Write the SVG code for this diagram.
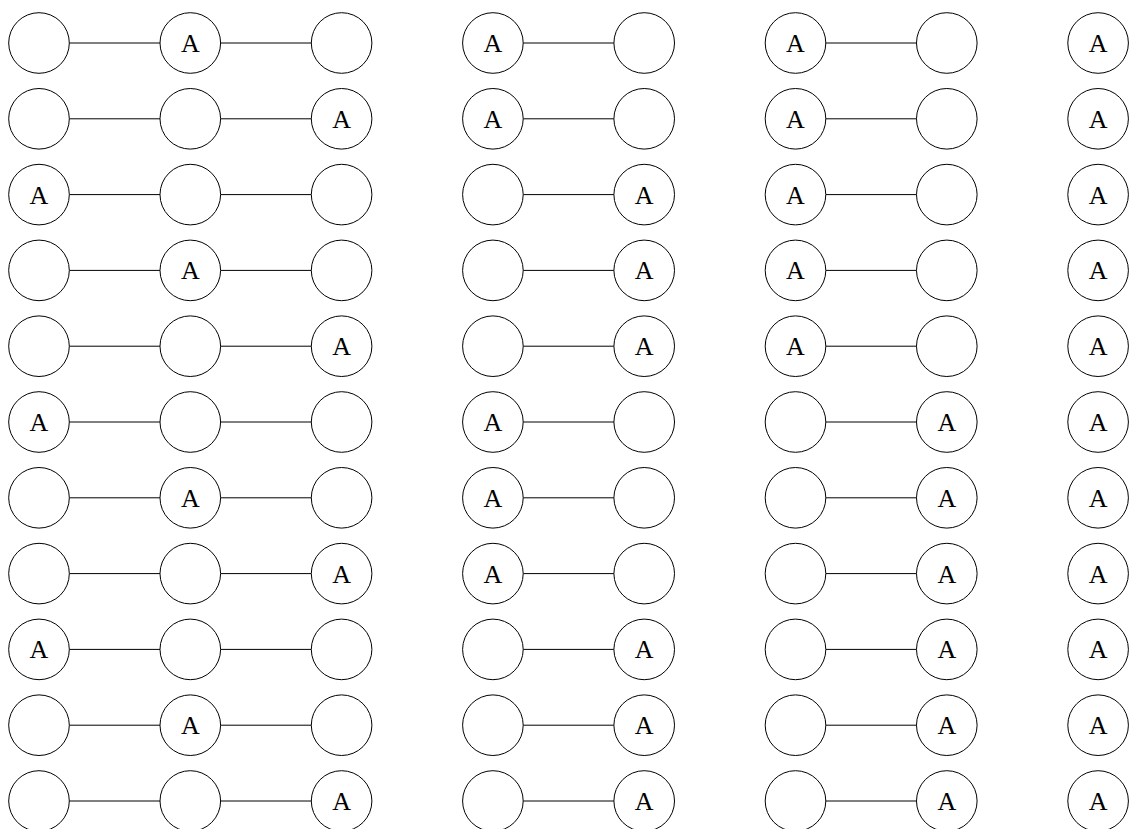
<svg xmlns="http://www.w3.org/2000/svg" width="1129" height="829" viewBox="0 0 1129 829">
<defs>
<style>
.n circle{fill:#fff;stroke:#000;stroke-width:1}
.n text{font-family:"Liberation Serif","Times New Roman",serif;font-size:26px;text-anchor:middle;fill:#000}
#edges line{stroke:#000;stroke-width:1}
</style>
<circle id="c" r="30.3"/>
</defs>
<rect width="1129" height="829" fill="#fff"/>
<g id="edges">
<line x1="69.3" y1="43" x2="160" y2="43"/><line x1="220.6" y1="43" x2="311.3" y2="43"/><line x1="523.2" y1="43" x2="613.9" y2="43"/><line x1="825.8" y1="43" x2="916.5" y2="43"/>
<line x1="69.3" y1="118.8" x2="160" y2="118.8"/><line x1="220.6" y1="118.8" x2="311.3" y2="118.8"/><line x1="523.2" y1="118.8" x2="613.9" y2="118.8"/><line x1="825.8" y1="118.8" x2="916.5" y2="118.8"/>
<line x1="69.3" y1="194.6" x2="160" y2="194.6"/><line x1="220.6" y1="194.6" x2="311.3" y2="194.6"/><line x1="523.2" y1="194.6" x2="613.9" y2="194.6"/><line x1="825.8" y1="194.6" x2="916.5" y2="194.6"/>
<line x1="69.3" y1="270.4" x2="160" y2="270.4"/><line x1="220.6" y1="270.4" x2="311.3" y2="270.4"/><line x1="523.2" y1="270.4" x2="613.9" y2="270.4"/><line x1="825.8" y1="270.4" x2="916.5" y2="270.4"/>
<line x1="69.3" y1="346.2" x2="160" y2="346.2"/><line x1="220.6" y1="346.2" x2="311.3" y2="346.2"/><line x1="523.2" y1="346.2" x2="613.9" y2="346.2"/><line x1="825.8" y1="346.2" x2="916.5" y2="346.2"/>
<line x1="69.3" y1="422" x2="160" y2="422"/><line x1="220.6" y1="422" x2="311.3" y2="422"/><line x1="523.2" y1="422" x2="613.9" y2="422"/><line x1="825.8" y1="422" x2="916.5" y2="422"/>
<line x1="69.3" y1="497.8" x2="160" y2="497.8"/><line x1="220.6" y1="497.8" x2="311.3" y2="497.8"/><line x1="523.2" y1="497.8" x2="613.9" y2="497.8"/><line x1="825.8" y1="497.8" x2="916.5" y2="497.8"/>
<line x1="69.3" y1="573.6" x2="160" y2="573.6"/><line x1="220.6" y1="573.6" x2="311.3" y2="573.6"/><line x1="523.2" y1="573.6" x2="613.9" y2="573.6"/><line x1="825.8" y1="573.6" x2="916.5" y2="573.6"/>
<line x1="69.3" y1="649.4" x2="160" y2="649.4"/><line x1="220.6" y1="649.4" x2="311.3" y2="649.4"/><line x1="523.2" y1="649.4" x2="613.9" y2="649.4"/><line x1="825.8" y1="649.4" x2="916.5" y2="649.4"/>
<line x1="69.3" y1="725.2" x2="160" y2="725.2"/><line x1="220.6" y1="725.2" x2="311.3" y2="725.2"/><line x1="523.2" y1="725.2" x2="613.9" y2="725.2"/><line x1="825.8" y1="725.2" x2="916.5" y2="725.2"/>
<line x1="69.3" y1="801" x2="160" y2="801"/><line x1="220.6" y1="801" x2="311.3" y2="801"/><line x1="523.2" y1="801" x2="613.9" y2="801"/><line x1="825.8" y1="801" x2="916.5" y2="801"/>
</g>
<!-- row 1 y=43 -->
<g id="r1a" class="n"><circle cx="39" cy="43" r="30.3"/></g>
<g id="r1b" class="n"><circle cx="190.3" cy="43" r="30.3"/><text x="190.3" y="52">A</text></g>
<g id="r1c" class="n"><circle cx="341.6" cy="43" r="30.3"/></g>
<g id="r1d" class="n"><circle cx="492.9" cy="43" r="30.3"/><text x="492.9" y="52">A</text></g>
<g id="r1e" class="n"><circle cx="644.2" cy="43" r="30.3"/></g>
<g id="r1f" class="n"><circle cx="795.5" cy="43" r="30.3"/><text x="795.5" y="52">A</text></g>
<g id="r1g" class="n"><circle cx="946.8" cy="43" r="30.3"/></g>
<g id="r1h" class="n"><circle cx="1098.1" cy="43" r="30.3"/><text x="1098.1" y="52">A</text></g>
<!-- row 2 y=118.8 -->
<g id="r2a" class="n"><circle cx="39" cy="118.8" r="30.3"/></g>
<g id="r2b" class="n"><circle cx="190.3" cy="118.8" r="30.3"/></g>
<g id="r2c" class="n"><circle cx="341.6" cy="118.8" r="30.3"/><text x="341.6" y="127.8">A</text></g>
<g id="r2d" class="n"><circle cx="492.9" cy="118.8" r="30.3"/><text x="492.9" y="127.8">A</text></g>
<g id="r2e" class="n"><circle cx="644.2" cy="118.8" r="30.3"/></g>
<g id="r2f" class="n"><circle cx="795.5" cy="118.8" r="30.3"/><text x="795.5" y="127.8">A</text></g>
<g id="r2g" class="n"><circle cx="946.8" cy="118.8" r="30.3"/></g>
<g id="r2h" class="n"><circle cx="1098.1" cy="118.8" r="30.3"/><text x="1098.1" y="127.8">A</text></g>
<!-- row 3 y=194.6 -->
<g id="r3a" class="n"><circle cx="39" cy="194.6" r="30.3"/><text x="39" y="203.6">A</text></g>
<g id="r3b" class="n"><circle cx="190.3" cy="194.6" r="30.3"/></g>
<g id="r3c" class="n"><circle cx="341.6" cy="194.6" r="30.3"/></g>
<g id="r3d" class="n"><circle cx="492.9" cy="194.6" r="30.3"/></g>
<g id="r3e" class="n"><circle cx="644.2" cy="194.6" r="30.3"/><text x="644.2" y="203.6">A</text></g>
<g id="r3f" class="n"><circle cx="795.5" cy="194.6" r="30.3"/><text x="795.5" y="203.6">A</text></g>
<g id="r3g" class="n"><circle cx="946.8" cy="194.6" r="30.3"/></g>
<g id="r3h" class="n"><circle cx="1098.1" cy="194.6" r="30.3"/><text x="1098.1" y="203.6">A</text></g>
<!-- row 4 y=270.4 -->
<g id="r4a" class="n"><circle cx="39" cy="270.4" r="30.3"/></g>
<g id="r4b" class="n"><circle cx="190.3" cy="270.4" r="30.3"/><text x="190.3" y="279.4">A</text></g>
<g id="r4c" class="n"><circle cx="341.6" cy="270.4" r="30.3"/></g>
<g id="r4d" class="n"><circle cx="492.9" cy="270.4" r="30.3"/></g>
<g id="r4e" class="n"><circle cx="644.2" cy="270.4" r="30.3"/><text x="644.2" y="279.4">A</text></g>
<g id="r4f" class="n"><circle cx="795.5" cy="270.4" r="30.3"/><text x="795.5" y="279.4">A</text></g>
<g id="r4g" class="n"><circle cx="946.8" cy="270.4" r="30.3"/></g>
<g id="r4h" class="n"><circle cx="1098.1" cy="270.4" r="30.3"/><text x="1098.1" y="279.4">A</text></g>
<!-- row 5 y=346.2 -->
<g id="r5a" class="n"><circle cx="39" cy="346.2" r="30.3"/></g>
<g id="r5b" class="n"><circle cx="190.3" cy="346.2" r="30.3"/></g>
<g id="r5c" class="n"><circle cx="341.6" cy="346.2" r="30.3"/><text x="341.6" y="355.2">A</text></g>
<g id="r5d" class="n"><circle cx="492.9" cy="346.2" r="30.3"/></g>
<g id="r5e" class="n"><circle cx="644.2" cy="346.2" r="30.3"/><text x="644.2" y="355.2">A</text></g>
<g id="r5f" class="n"><circle cx="795.5" cy="346.2" r="30.3"/><text x="795.5" y="355.2">A</text></g>
<g id="r5g" class="n"><circle cx="946.8" cy="346.2" r="30.3"/></g>
<g id="r5h" class="n"><circle cx="1098.1" cy="346.2" r="30.3"/><text x="1098.1" y="355.2">A</text></g>
<!-- row 6 y=422 -->
<g id="r6a" class="n"><circle cx="39" cy="422" r="30.3"/><text x="39" y="431">A</text></g>
<g id="r6b" class="n"><circle cx="190.3" cy="422" r="30.3"/></g>
<g id="r6c" class="n"><circle cx="341.6" cy="422" r="30.3"/></g>
<g id="r6d" class="n"><circle cx="492.9" cy="422" r="30.3"/><text x="492.9" y="431">A</text></g>
<g id="r6e" class="n"><circle cx="644.2" cy="422" r="30.3"/></g>
<g id="r6f" class="n"><circle cx="795.5" cy="422" r="30.3"/></g>
<g id="r6g" class="n"><circle cx="946.8" cy="422" r="30.3"/><text x="946.8" y="431">A</text></g>
<g id="r6h" class="n"><circle cx="1098.1" cy="422" r="30.3"/><text x="1098.1" y="431">A</text></g>
<!-- row 7 y=497.8 -->
<g id="r7a" class="n"><circle cx="39" cy="497.8" r="30.3"/></g>
<g id="r7b" class="n"><circle cx="190.3" cy="497.8" r="30.3"/><text x="190.3" y="506.8">A</text></g>
<g id="r7c" class="n"><circle cx="341.6" cy="497.8" r="30.3"/></g>
<g id="r7d" class="n"><circle cx="492.9" cy="497.8" r="30.3"/><text x="492.9" y="506.8">A</text></g>
<g id="r7e" class="n"><circle cx="644.2" cy="497.8" r="30.3"/></g>
<g id="r7f" class="n"><circle cx="795.5" cy="497.8" r="30.3"/></g>
<g id="r7g" class="n"><circle cx="946.8" cy="497.8" r="30.3"/><text x="946.8" y="506.8">A</text></g>
<g id="r7h" class="n"><circle cx="1098.1" cy="497.8" r="30.3"/><text x="1098.1" y="506.8">A</text></g>
<!-- row 8 y=573.6 -->
<g id="r8a" class="n"><circle cx="39" cy="573.6" r="30.3"/></g>
<g id="r8b" class="n"><circle cx="190.3" cy="573.6" r="30.3"/></g>
<g id="r8c" class="n"><circle cx="341.6" cy="573.6" r="30.3"/><text x="341.6" y="582.6">A</text></g>
<g id="r8d" class="n"><circle cx="492.9" cy="573.6" r="30.3"/><text x="492.9" y="582.6">A</text></g>
<g id="r8e" class="n"><circle cx="644.2" cy="573.6" r="30.3"/></g>
<g id="r8f" class="n"><circle cx="795.5" cy="573.6" r="30.3"/></g>
<g id="r8g" class="n"><circle cx="946.8" cy="573.6" r="30.3"/><text x="946.8" y="582.6">A</text></g>
<g id="r8h" class="n"><circle cx="1098.1" cy="573.6" r="30.3"/><text x="1098.1" y="582.6">A</text></g>
<!-- row 9 y=649.4 -->
<g id="r9a" class="n"><circle cx="39" cy="649.4" r="30.3"/><text x="39" y="658.4">A</text></g>
<g id="r9b" class="n"><circle cx="190.3" cy="649.4" r="30.3"/></g>
<g id="r9c" class="n"><circle cx="341.6" cy="649.4" r="30.3"/></g>
<g id="r9d" class="n"><circle cx="492.9" cy="649.4" r="30.3"/></g>
<g id="r9e" class="n"><circle cx="644.2" cy="649.4" r="30.3"/><text x="644.2" y="658.4">A</text></g>
<g id="r9f" class="n"><circle cx="795.5" cy="649.4" r="30.3"/></g>
<g id="r9g" class="n"><circle cx="946.8" cy="649.4" r="30.3"/><text x="946.8" y="658.4">A</text></g>
<g id="r9h" class="n"><circle cx="1098.1" cy="649.4" r="30.3"/><text x="1098.1" y="658.4">A</text></g>
<!-- row 10 y=725.2 -->
<g id="r10a" class="n"><circle cx="39" cy="725.2" r="30.3"/></g>
<g id="r10b" class="n"><circle cx="190.3" cy="725.2" r="30.3"/><text x="190.3" y="734.2">A</text></g>
<g id="r10c" class="n"><circle cx="341.6" cy="725.2" r="30.3"/></g>
<g id="r10d" class="n"><circle cx="492.9" cy="725.2" r="30.3"/></g>
<g id="r10e" class="n"><circle cx="644.2" cy="725.2" r="30.3"/><text x="644.2" y="734.2">A</text></g>
<g id="r10f" class="n"><circle cx="795.5" cy="725.2" r="30.3"/></g>
<g id="r10g" class="n"><circle cx="946.8" cy="725.2" r="30.3"/><text x="946.8" y="734.2">A</text></g>
<g id="r10h" class="n"><circle cx="1098.1" cy="725.2" r="30.3"/><text x="1098.1" y="734.2">A</text></g>
<!-- row 11 y=801 -->
<g id="r11a" class="n"><circle cx="39" cy="801" r="30.3"/></g>
<g id="r11b" class="n"><circle cx="190.3" cy="801" r="30.3"/></g>
<g id="r11c" class="n"><circle cx="341.6" cy="801" r="30.3"/><text x="341.6" y="810">A</text></g>
<g id="r11d" class="n"><circle cx="492.9" cy="801" r="30.3"/></g>
<g id="r11e" class="n"><circle cx="644.2" cy="801" r="30.3"/><text x="644.2" y="810">A</text></g>
<g id="r11f" class="n"><circle cx="795.5" cy="801" r="30.3"/></g>
<g id="r11g" class="n"><circle cx="946.8" cy="801" r="30.3"/><text x="946.8" y="810">A</text></g>
<g id="r11h" class="n"><circle cx="1098.1" cy="801" r="30.3"/><text x="1098.1" y="810">A</text></g>
</svg>
